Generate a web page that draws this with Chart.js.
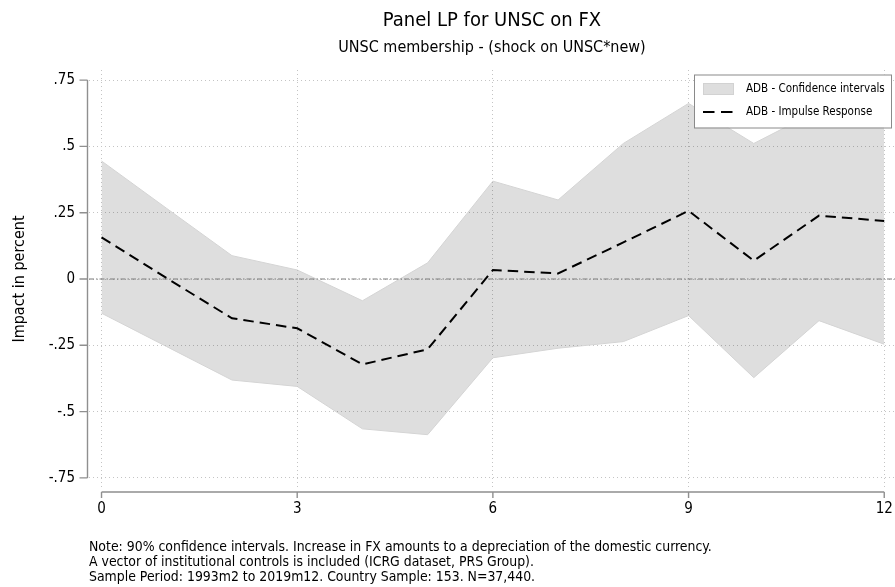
<!DOCTYPE html>
<html>
<head>
<meta charset="utf-8">
<script src="https://cdn.jsdelivr.net/npm/chart.js@4.4.0/dist/chart.umd.min.js"></script>
<style>
  html, body { margin: 0; padding: 0; background: #fff; }
  #wrap { width: 895px; height: 587px; }
</style>
</head>
<body>
<div id="wrap"><canvas id="grafico" width="895" height="587"></canvas></div>
<script>
// horizon (months after shock)
const passos = [0, 1, 2, 3, 4, 5, 6, 7, 8, 9, 10, 11, 12];
const irf = [0.157, 0.003, -0.148, -0.186, -0.322, -0.265, 0.034, 0.021, 0.138, 0.257, 0.069, 0.239, 0.219];
const ciSup = [0.445, 0.266, 0.088, 0.034, -0.082, 0.061, 0.369, 0.298, 0.511, 0.662, 0.511, 0.637, 0.684];
const ciInf = [-0.129, -0.255, -0.381, -0.405, -0.565, -0.587, -0.297, -0.261, -0.236, -0.138, -0.372, -0.157, -0.246];

const xTicks = [0, 3, 6, 9, 12];
const yTicks = [-0.75, -0.5, -0.25, 0, 0.25, 0.5, 0.75];
const yTickLabels = ['-.75', '-.5', '-.25', '0', '.25', '.5', '.75'];

const titulo = 'Panel LP for UNSC on FX';
const subtitulo = 'UNSC membership - (shock on UNSC*new)';
const tituloY = 'Impact in percent';
const notas = [
    'Note: 90% confidence intervals. Increase in FX amounts to a depreciation of the domestic currency.',
    'A vector of institutional controls is included (ICRG dataset, PRS Group).',
    'Sample Period: 1993m2 to 2019m12. Country Sample: 153. N=37,440.'
];

const fonte = '"Liberation Sans Narrow", "Arial Narrow", "DejaVu Sans Condensed", sans-serif';
Chart.defaults.font.family = fonte;
Chart.defaults.color = '#000';

const pares = (arr) => passos.map((p, i) => ({ x: p, y: arr[i] }));

// zero line + axis lines with outward ticks
const eixos = {
    id: 'eixos',
    afterDatasetDraw(chart, args) {
        if (args.index !== 1) return;
        const { ctx, chartArea, scales } = chart;
        const y0 = scales.y.getPixelForValue(0);
        ctx.save();
        ctx.strokeStyle = '#7a7a7a';
        ctx.lineWidth = 1;
        ctx.setLineDash([5, 2, 1.5, 2]);
        ctx.beginPath();
        ctx.moveTo(chartArea.left, y0);
        ctx.lineTo(chartArea.right, y0);
        ctx.stroke();
        ctx.restore();
    },
    afterDraw(chart) {
        const { ctx, chartArea, scales } = chart;
        const ax = chartArea.left - 1.5;
        const ay = chartArea.bottom + 4;
        ctx.save();
        ctx.strokeStyle = '#8f8f8f';
        ctx.lineWidth = 1.4;
        ctx.beginPath();
        ctx.moveTo(ax, scales.y.getPixelForValue(yTicks[0]));
        ctx.lineTo(ax, scales.y.getPixelForValue(yTicks[yTicks.length - 1]));
        yTicks.forEach(v => {
            const p = scales.y.getPixelForValue(v);
            ctx.moveTo(ax, p);
            ctx.lineTo(ax - 8, p);
        });
        ctx.moveTo(scales.x.getPixelForValue(xTicks[0]), ay);
        ctx.lineTo(scales.x.getPixelForValue(xTicks[xTicks.length - 1]), ay);
        xTicks.forEach(v => {
            const p = scales.x.getPixelForValue(v);
            ctx.moveTo(p, ay);
            ctx.lineTo(p, ay + 6);
        });
        ctx.stroke();
        ctx.restore();
    }
};

// legend box inside the plot, top right
const legenda = {
    id: 'legenda',
    afterDraw(chart) {
        const { ctx, chartArea } = chart;
        const ds = chart.data.datasets;
        const w = 197, h = 53;
        const x = chartArea.right - 201, y = chartArea.top + 4.5;
        ctx.save();
        ctx.fillStyle = '#fff';
        ctx.fillRect(x, y, w, h);
        ctx.strokeStyle = '#8a8a8a';
        ctx.lineWidth = 1;
        ctx.strokeRect(x + 0.5, y + 0.5, w, h);

        ctx.fillStyle = '#dedede';
        ctx.fillRect(x + 9, y + 8.5, 31, 12);
        ctx.strokeStyle = '#d2d2d2';
        ctx.strokeRect(x + 9.5, y + 9, 30, 11);

        ctx.strokeStyle = '#000';
        ctx.lineWidth = 2;
        ctx.setLineDash([11.5, 6.5]);
        ctx.beginPath();
        ctx.moveTo(x + 9, y + 37.5);
        ctx.lineTo(x + 42, y + 37.5);
        ctx.stroke();
        ctx.setLineDash([]);

        ctx.fillStyle = '#000';
        ctx.font = '11.5px ' + fonte;
        ctx.textBaseline = 'middle';
        ctx.fillText(ds[2].label, x + 52, y + 15);
        ctx.fillText(ds[0].label, x + 52, y + 37.5);
        ctx.restore();
    }
};

const ctx = document.getElementById('grafico').getContext('2d');
new Chart(ctx, {
    type: 'line',
    data: {
        datasets: [
            {
                label: 'ADB - Impulse Response',
                data: pares(irf),
                borderColor: '#000',
                borderWidth: 2,
                borderDash: [10.5, 6],
                pointRadius: 0,
                fill: false,
                tension: 0
            },
            {
                label: 'ci lower',
                data: pares(ciInf),
                borderColor: '#d4d4d4',
                borderWidth: 1,
                pointRadius: 0,
                fill: false
            },
            {
                label: 'ADB - Confidence intervals',
                data: pares(ciSup),
                borderColor: '#d4d4d4',
                borderWidth: 1,
                pointRadius: 0,
                backgroundColor: 'rgba(0,0,0,0.128)',
                fill: '-1'
            }
        ]
    },
    options: {
        responsive: false,
        animation: false,
        layout: { padding: 0 },
        plugins: {
            legend: { display: false },
            tooltip: { enabled: false },
            title: {
                display: true,
                text: titulo,
                fullSize: false,
                font: { size: 20, weight: 'normal' },
                padding: { top: 9, bottom: 3 }
            },
            subtitle: {
                display: true,
                text: subtitulo,
                fullSize: false,
                font: { size: 16, weight: 'normal' },
                padding: { top: 2, bottom: 12.8 }
            }
        },
        scales: {
            x: {
                type: 'linear',
                min: -0.192,
                max: 12.165,
                afterBuildTicks: (s) => { s.ticks = xTicks.map(v => ({ value: v })); },
                afterFit: (s) => { s.height = 99; s.paddingLeft = 0; s.paddingRight = 0; },
                ticks: {
                    font: { size: 15 },
                    padding: 12,
                    maxRotation: 0,
                    callback: (v) => String(v)
                },
                grid: { color: '#c4c4c4', lineWidth: 1, drawTicks: false },
                border: { display: false, dash: [1, 3] },
                title: {
                    display: true,
                    text: notas,
                    align: 'start',
                    font: { size: 13.9, lineHeight: 1.07 },
                    padding: { top: 0, bottom: 2.5 }
                }
            },
            y: {
                type: 'linear',
                min: -0.788,
                max: 0.788,
                afterBuildTicks: (s) => { s.ticks = yTicks.map(v => ({ value: v })); },
                afterFit: (s) => { s.width = 89; s.paddingTop = 0; s.paddingBottom = 0; },
                ticks: {
                    font: { size: 15 },
                    padding: 14,
                    callback: (v) => yTickLabels[yTicks.indexOf(v)]
                },
                grid: { color: '#c4c4c4', lineWidth: 1, drawTicks: false },
                border: { display: false, dash: [1, 3] },
                title: {
                    display: true,
                    text: tituloY,
                    font: { size: 16 },
                    padding: { top: 10, bottom: 0 }
                }
            }
        }
    },
    plugins: [eixos, legenda]
});
</script>
</body>
</html>
